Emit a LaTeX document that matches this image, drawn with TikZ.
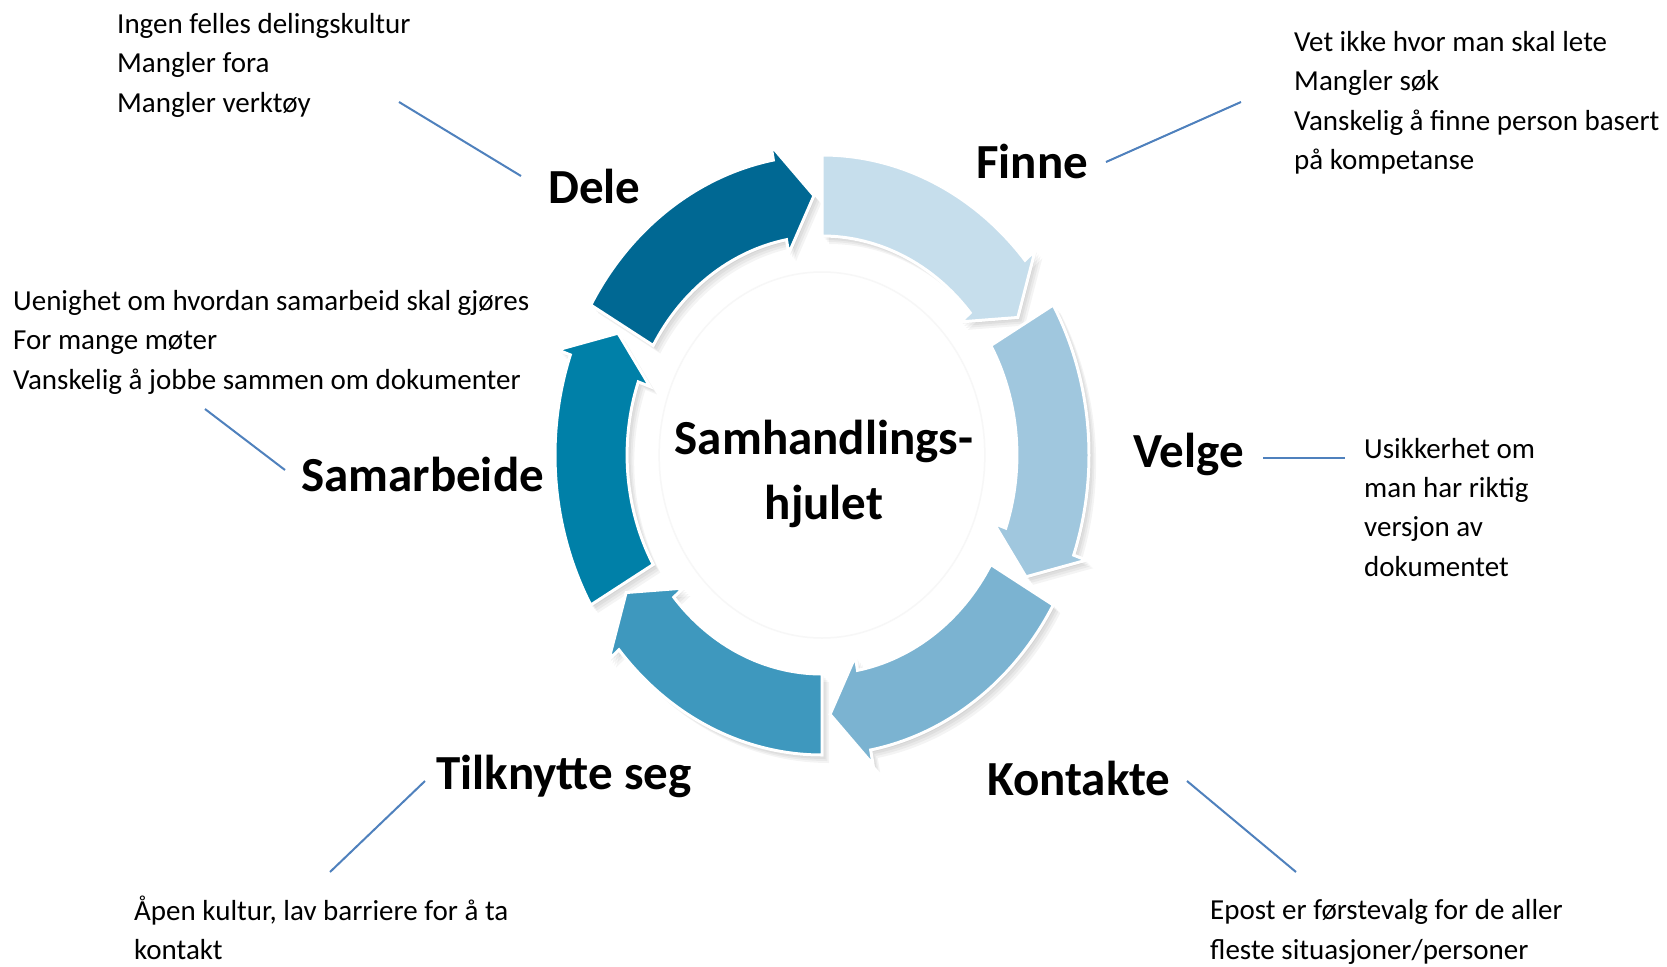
\documentclass[tikz,border=0pt]{standalone}
\usepackage{fontspec}
\setmainfont{Carlito}
\usepackage{xcolor}
\usepackage{tikz}

\definecolor{finnecol}{HTML}{C6DEEC}
\definecolor{velgecol}{HTML}{A0C7DE}
\definecolor{kontaktecol}{HTML}{7BB3D1}
\definecolor{tilknyttecol}{HTML}{3E98BE}
\definecolor{samarbeidecol}{HTML}{0080A8}
\definecolor{delecol}{HTML}{006893}
\definecolor{linkcol}{HTML}{4F81BD}

\begin{document}
\begin{tikzpicture}[
    x=1pt, y=1pt,
    stage/.style={font=\fontsize{49}{59}\selectfont\bfseries, inner sep=0pt, anchor=base west},
    hub/.style={font=\fontsize{49}{65}\selectfont\bfseries, inner sep=0pt, align=center},
    note/.style={font=\fontsize{29}{39.3}\selectfont, inner sep=0pt, anchor=base west, align=left},
    link/.style={draw=linkcol, line width=2pt},
    segment/.style={draw=white, line width=3pt, line join=miter}
]

\useasboundingbox (0,0) rectangle (1667,-966);
\fill[white] (0,0) rectangle (1667,-966);

% Wheel
\begin{scope}[shift={(822,-455)}, xscale=0.89]
  \draw[black!3, line width=1.5pt] (0,0) circle[radius=183];
  % soft shadows
  \foreach \a in {90,30,-30,-90,-150,150}
    \foreach \s in {2,4,6,8}
      \fill[black, opacity=0.045, shift={(\s,-\s)}]
        (\a:300) arc[start angle=\a, end angle=\a-49.5, radius=300]
        -- ({\a-49.5}:315) -- ({\a-58}:259.5) -- ({\a-49.5}:205)
        -- ({\a-49.5}:219) arc[start angle=\a-49.5, end angle=\a, radius=219] -- cycle;
  % arrows
  \foreach \a/\c in {90/finnecol, 30/velgecol, -30/kontaktecol, -90/tilknyttecol, -150/samarbeidecol, 150/delecol}
    \filldraw[segment, fill=\c]
      (\a:300) arc[start angle=\a, end angle=\a-49.5, radius=300]
      -- ({\a-49.5}:315) -- ({\a-58}:259.5) -- ({\a-49.5}:205)
      -- ({\a-49.5}:219) arc[start angle=\a-49.5, end angle=\a, radius=219] -- cycle;
\end{scope}

% Nodes
\node[hub] (hub) at (824,-474) {Samhandlings-\\hjulet};

\node[stage] (dele) at (548,-203) {Dele};
\node[stage] (finne) at (976,-178) {Finne};
\node[stage] (velge) at (1133,-467) {Velge};
\node[stage] (kontakte) at (987,-795) {Kontakte};
\node[stage] (tilknytte) at (436,-789) {Tilknytte seg};
\node[stage] (samarbeide) at (301,-491) {Samarbeide};

% Notes (placed by their last baseline)
\node[note] (delenote) at (117,-112) {Ingen felles delingskultur\\Mangler fora\\Mangler verktøy};
\node[note] (finnenote) at (1294,-169.5) {Vet ikke hvor man skal lete\\Mangler søk\\Vanskelig å finne person basert\\på kompetanse};
\node[note] (samarbeidenote) at (13,-389) {Uenighet om hvordan samarbeid skal gjøres\\For mange møter\\Vanskelig å jobbe sammen om dokumenter};
\node[note] (velgenote) at (1364,-576) {Usikkerhet om\\man har riktig\\versjon av\\dokumentet};
\node[note] (tilknyttenote) at (134,-959.5) {Åpen kultur, lav barriere for å ta\\kontakt};
\node[note] (kontaktenote) at (1210,-959) {Epost er førstevalg for de aller\\fleste situasjoner/personer};

% Connector ends
\coordinate (dele-a) at (399,-102);   \coordinate (dele-b) at (521,-176);
\coordinate (finne-a) at (1106,-162); \coordinate (finne-b) at (1241,-102);
\coordinate (samarb-a) at (205,-409); \coordinate (samarb-b) at (285,-470);
\coordinate (velge-a) at (1263,-458); \coordinate (velge-b) at (1345,-458);
\coordinate (tilkn-a) at (425,-781);  \coordinate (tilkn-b) at (330,-872);
\coordinate (kont-a) at (1187,-781);  \coordinate (kont-b) at (1296,-872);

% Connectors
\draw[link] (dele-a) -- (dele-b);
\draw[link] (finne-a) -- (finne-b);
\draw[link] (samarb-a) -- (samarb-b);
\draw[link] (velge-a) -- (velge-b);
\draw[link] (tilkn-a) -- (tilkn-b);
\draw[link] (kont-a) -- (kont-b);

\end{tikzpicture}
\end{document}
